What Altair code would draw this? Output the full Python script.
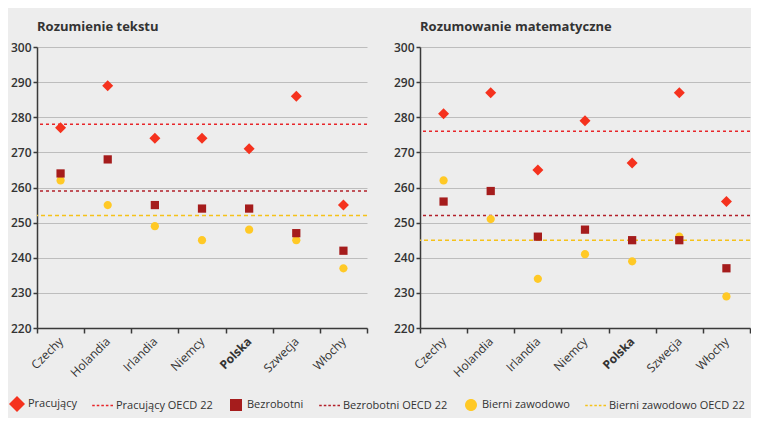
import altair as alt
import pandas as pd

# ---- data ----
countries = ["Czechy", "Holandia", "Irlandia", "Niemcy", "Polska", "Szwecja", "Włochy"]
series = ["Pracujący", "Pracujący OECD 22", "Bezrobotni", "Bezrobotni OECD 22",
          "Bierni zawodowo", "Bierni zawodowo OECD 22"]
point_series = ["Bierni zawodowo", "Bezrobotni", "Pracujący"]  # draw order
line_series = ["Pracujący OECD 22", "Bezrobotni OECD 22", "Bierni zawodowo OECD 22"]

tekst_pracujacy = [277, 289, 274, 274, 271, 286, 255]
tekst_bezrobotni = [264, 268, 255, 254, 254, 247, 242]
tekst_bierni = [262, 255, 249, 245, 248, 245, 237]
tekst_oecd = [278, 259, 252]

mat_pracujacy = [281, 287, 265, 279, 267, 287, 256]
mat_bezrobotni = [256, 259, 246, 248, 245, 245, 237]
mat_bierni = [262, 251, 234, 241, 239, 246, 229]
mat_oecd = [276, 252, 245]

y_ticks = [220, 230, 240, 250, 260, 270, 280, 290, 300]

# ---- styles ----
RED = "#f5321e"
DARK = "#a51c1c"
YEL = "#ffc926"
colors = [RED, "#e8262a", DARK, "#b3202a", YEL, "#f5c21a"]
line_colors = ["#e8262a", "#b3202a", "#f5c21a"]
line_dashes = [[3, 3], [3, 3], [4, 3]]

DIAMOND = "M0,-1L1,0L0,1L-1,0Z"
SQUARE = "M-0.75,-0.75H0.75V0.75H-0.75Z"
CIRCLE = "M-0.75,0A0.75,0.75,0,1,0,0.75,0A0.75,0.75,0,1,0,-0.75,0Z"
DASH = ("M-1.6,-0.1H-1.28V0.1H-1.6Z M-1.03,-0.1H-0.71V0.1H-1.03Z "
        "M-0.46,-0.1H-0.14V0.1H-0.46Z M0.11,-0.1H0.43V0.1H0.11Z "
        "M0.68,-0.1H1.0V0.1H0.68Z")
shapes = [DIAMOND, DASH, SQUARE, DASH, CIRCLE, DASH]

FONT = "Open Sans"
TXT = "#333333"


def build_points(prac, bezr, bier):
    vals = {"Pracujący": prac, "Bezrobotni": bezr, "Bierni zawodowo": bier}
    rows = []
    for s in point_series:
        for c, v in zip(countries, vals[s]):
            rows.append({"country": c, "series": s, "value": v})
    return pd.DataFrame(rows)


def build_lines(oecd):
    return pd.DataFrame({"series": line_series, "value": oecd})


def panel(title, prac, bezr, bier, oecd):
    pts = build_points(prac, bezr, bier)
    lns = build_lines(oecd)
    yscale = alt.Scale(domain=[220, 300], nice=False, zero=False)
    yaxis = alt.Axis(values=y_ticks, title=None, domainColor="#3a3a3a", domainWidth=1.5,
                     tickColor="#3a3a3a", tickSize=4, tickWidth=1.5, labelFontSize=12,
                     labelFontWeight=600, labelColor=TXT, labelPadding=2,
                     gridColor="#bdbdbd", gridWidth=1)
    xaxis = alt.Axis(title=None, labelAngle=-45, labelAlign="right", labelBaseline="middle",
                     tickBand="extent", tickSize=5, tickColor="#3a3a3a", tickWidth=1.5,
                     domainColor="#3a3a3a", domainWidth=1.5, grid=False,
                     labelFontSize=12, labelColor=TXT, labelPadding=6,
                     labelFontWeight={"condition": {"test": "datum.value == 'Polska'", "value": "bold"},
                                      "value": "normal"})
    rules = alt.Chart(lns).mark_rule(strokeWidth=1.5).encode(
        y=alt.Y("value:Q", scale=yscale, axis=yaxis),
        stroke=alt.Stroke("series:N", scale=alt.Scale(domain=line_series, range=line_colors), legend=None),
        strokeDash=alt.StrokeDash("series:N", scale=alt.Scale(domain=line_series, range=line_dashes), legend=None),
    )
    points = alt.Chart(pts).mark_point(filled=True, opacity=1, size=121, strokeWidth=0).encode(
        x=alt.X("country:N", sort=countries,
                scale=alt.Scale(type="band", paddingInner=0, paddingOuter=0), axis=xaxis),
        y=alt.Y("value:Q", scale=yscale, axis=yaxis),
        color=alt.Color("series:N", scale=alt.Scale(domain=series, range=colors), title=None),
        shape=alt.Shape("series:N", scale=alt.Scale(domain=series, range=shapes), title=None),
    )
    return alt.layer(rules, points).properties(
        width=330, height=281,
        title=alt.TitleParams(title, anchor="start", frame="group", fontSize=13,
                              fontWeight="bold", color=TXT, offset=7, font=FONT),
    )


left = panel("Rozumienie tekstu", tekst_pracujacy, tekst_bezrobotni, tekst_bierni, tekst_oecd)
right = panel("Rozumowanie matematyczne", mat_pracujacy, mat_bezrobotni, mat_bierni, mat_oecd)

chart = alt.hconcat(left, right, spacing=25).resolve_scale(
    color="shared", shape="shared"
).configure(
    background="#ededed",
    padding={"left": 1, "top": 13, "right": 0, "bottom": 6},
    font=FONT,
).configure_view(strokeWidth=0).configure_legend(
    orient="none", legendX=-28, legendY=349, direction="horizontal", columns=6,
    labelFontSize=11, labelColor=TXT, symbolSize=256, labelOffset=3, columnPadding=15,
    symbolStrokeWidth=0, symbolOpacity=1, padding=0, labelFont=FONT,
    labelLimit=300,
)

chart.save("out.html", embed_options={"renderer": "svg", "actions": False})
